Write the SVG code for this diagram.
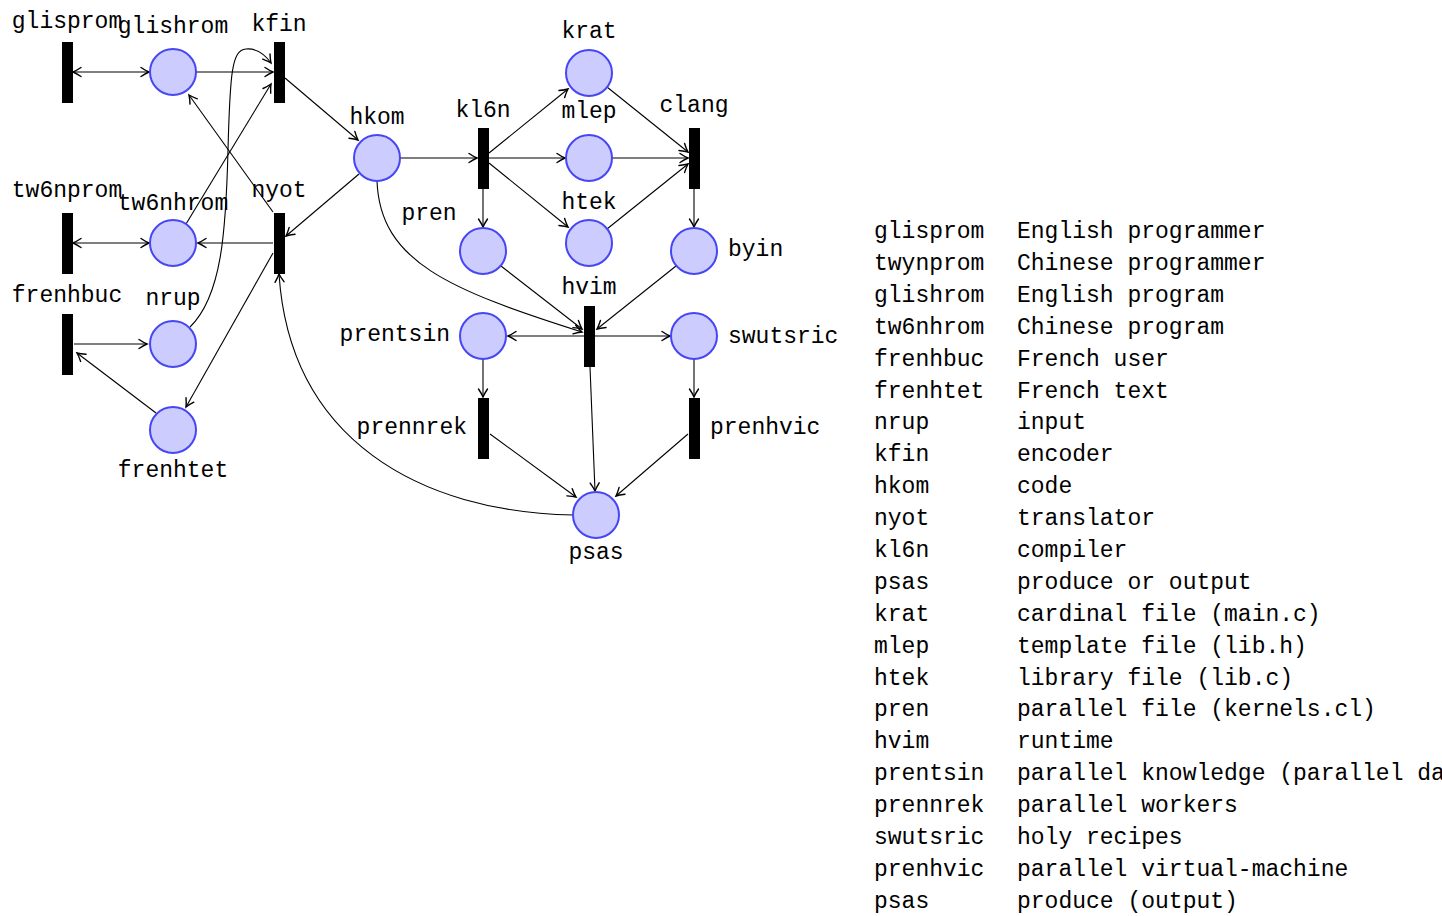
<svg xmlns="http://www.w3.org/2000/svg" width="1442" height="916" viewBox="0 0 1442 916">
<defs>
<marker id="ar" markerUnits="userSpaceOnUse" viewBox="-10 -6 12 12" refX="0" refY="0" markerWidth="12" markerHeight="12" orient="auto-start-reverse">
<path d="M-8,-4.5 Q-3,-1.2 0,0 Q-3,1.2 -8,4.5" fill="none" stroke="#000" stroke-width="1.4" stroke-linecap="round"/>
</marker>
</defs>
<style>
text{font-family:"Liberation Mono","DejaVu Sans Mono",monospace;font-size:23px;fill:#000}
.m{text-anchor:middle}
.e{text-anchor:end}
.p{fill:#ccccff;stroke:#4646f5;stroke-width:2}
.t{fill:#000}
#edges path{fill:none;stroke:#000;stroke-width:1.1}
.a{marker-end:url(#ar)}
.b{marker-start:url(#ar);marker-end:url(#ar)}
</style>
<rect width="1442" height="916" fill="#fff"/>
<g id="edges">
<path class="b" d="M73,72 L149,72"/>
<path class="a" d="M196,72 L273,72"/>
<path class="a" d="M285,78 L358,140"/>
<path class="a" d="M400,158 L477,158"/>
<path class="a" d="M489,153 L568,89"/>
<path class="a" d="M489,158 L565,158"/>
<path class="a" d="M489,163 L568,227"/>
<path class="a" d="M483,189 L483,227"/>
<path class="a" d="M607,87 L688,152"/>
<path class="a" d="M612,158 L688,158"/>
<path class="a" d="M607,229 L688,164"/>
<path class="a" d="M694,189 L694,227"/>
<path class="a" d="M676,266 L597,329"/>
<path class="a" d="M501,266 L582,329"/>
<path class="a" d="M377,181 C380,262 450,290 582,332"/>
<path class="a" d="M584,336 L508,336"/>
<path class="a" d="M594,336 L670,336"/>
<path class="a" d="M590,367 L595,491"/>
<path class="a" d="M483,359 L483,397"/>
<path class="a" d="M694,359 L694,397"/>
<path class="a" d="M490,434 L576,497"/>
<path class="a" d="M688,434 L616,496"/>
<path class="a" d="M573,515 C420,512 290,440 279,274"/>
<path class="a" d="M359,174 L286,236"/>
<path class="a" d="M273,212 L189,95"/>
<path class="a" d="M273,243 L198,243"/>
<path class="b" d="M73,243 L149,243"/>
<path class="a" d="M186,224 L271,84"/>
<path class="a" d="M273,253 L186,407"/>
<path class="a" d="M74,344 L147,344"/>
<path class="a" d="M156,413 L77,353"/>
<path class="a" d="M190,327 C222,296 226,230 228,150 C230,72 232,50 246,49 C258,48 266,56 271,63"/>
</g>
<g id="glisprom"><rect class="t" x="62" y="42" width="11" height="61"/><text class="m" x="67" y="28">glisprom</text></g>
<g id="glishrom"><circle class="p" cx="173" cy="72" r="23"/><text class="m" x="173" y="33">glishrom</text></g>
<g id="kfin"><rect class="t" x="274" y="42" width="11" height="61"/><text class="m" x="279" y="31">kfin</text></g>
<g id="tw6nprom"><rect class="t" x="62" y="213" width="11" height="61"/><text class="m" x="67" y="197">tw6nprom</text></g>
<g id="tw6nhrom"><circle class="p" cx="173" cy="243" r="23"/><text class="m" x="173" y="210">tw6nhrom</text></g>
<g id="nyot"><rect class="t" x="274" y="213" width="11" height="61"/><text class="m" x="279" y="197">nyot</text></g>
<g id="frenhbuc"><rect class="t" x="62" y="314" width="11" height="61"/><text class="m" x="67" y="302">frenhbuc</text></g>
<g id="nrup"><circle class="p" cx="173" cy="344" r="23"/><text class="m" x="173" y="305">nrup</text></g>
<g id="frenhtet"><circle class="p" cx="173" cy="430" r="23"/><text class="m" x="173" y="477">frenhtet</text></g>
<g id="hkom"><circle class="p" cx="377" cy="158" r="23"/><text class="m" x="377" y="124">hkom</text></g>
<g id="kl6n"><rect class="t" x="478" y="128" width="11" height="61"/><text class="m" x="483" y="117">kl6n</text></g>
<g id="krat"><circle class="p" cx="589" cy="73" r="23"/><text class="m" x="589" y="38">krat</text></g>
<g id="mlep"><circle class="p" cx="589" cy="158" r="23"/><text class="m" x="589" y="118">mlep</text></g>
<g id="htek"><circle class="p" cx="589" cy="243" r="23"/><text class="m" x="589" y="209">htek</text></g>
<g id="pren"><circle class="p" cx="483" cy="251" r="23"/><text class="m" x="429" y="220">pren</text></g>
<g id="clang"><rect class="t" x="689" y="128" width="11" height="61"/><text class="m" x="694" y="112">clang</text></g>
<g id="byin"><circle class="p" cx="694" cy="251" r="23"/><text x="728" y="256">byin</text></g>
<g id="hvim"><rect class="t" x="584" y="306" width="11" height="61"/><text class="m" x="589" y="294">hvim</text></g>
<g id="prentsin"><circle class="p" cx="483" cy="336" r="23"/><text class="e" x="450" y="341">prentsin</text></g>
<g id="swutsric"><circle class="p" cx="694" cy="336" r="23"/><text x="728" y="343">swutsric</text></g>
<g id="prennrek"><rect class="t" x="478" y="398" width="11" height="61"/><text class="e" x="467" y="434">prennrek</text></g>
<g id="prenhvic"><rect class="t" x="689" y="398" width="11" height="61"/><text x="710" y="434">prenhvic</text></g>
<g id="psas"><circle class="p" cx="596" cy="515" r="23"/><text class="m" x="596" y="559">psas</text></g>
<g id="legend">
<text x="874" y="238">glisprom</text><text x="1017" y="238">English programmer</text>
<text x="874" y="270">twynprom</text><text x="1017" y="270">Chinese programmer</text>
<text x="874" y="302">glishrom</text><text x="1017" y="302">English program</text>
<text x="874" y="334">tw6nhrom</text><text x="1017" y="334">Chinese program</text>
<text x="874" y="366">frenhbuc</text><text x="1017" y="366">French user</text>
<text x="874" y="398">frenhtet</text><text x="1017" y="398">French text</text>
<text x="874" y="429">nrup</text><text x="1017" y="429">input</text>
<text x="874" y="461">kfin</text><text x="1017" y="461">encoder</text>
<text x="874" y="493">hkom</text><text x="1017" y="493">code</text>
<text x="874" y="525">nyot</text><text x="1017" y="525">translator</text>
<text x="874" y="557">kl6n</text><text x="1017" y="557">compiler</text>
<text x="874" y="589">psas</text><text x="1017" y="589">produce or output</text>
<text x="874" y="621">krat</text><text x="1017" y="621">cardinal file (main.c)</text>
<text x="874" y="653">mlep</text><text x="1017" y="653">template file (lib.h)</text>
<text x="874" y="685">htek</text><text x="1017" y="685">library file (lib.c)</text>
<text x="874" y="716">pren</text><text x="1017" y="716">parallel file (kernels.cl)</text>
<text x="874" y="748">hvim</text><text x="1017" y="748">runtime</text>
<text x="874" y="780">prentsin</text><text x="1017" y="780">parallel knowledge (parallel da</text>
<text x="874" y="812">prennrek</text><text x="1017" y="812">parallel workers</text>
<text x="874" y="844">swutsric</text><text x="1017" y="844">holy recipes</text>
<text x="874" y="876">prenhvic</text><text x="1017" y="876">parallel virtual-machine</text>
<text x="874" y="908">psas</text><text x="1017" y="908">produce (output)</text>
</g>
</svg>
